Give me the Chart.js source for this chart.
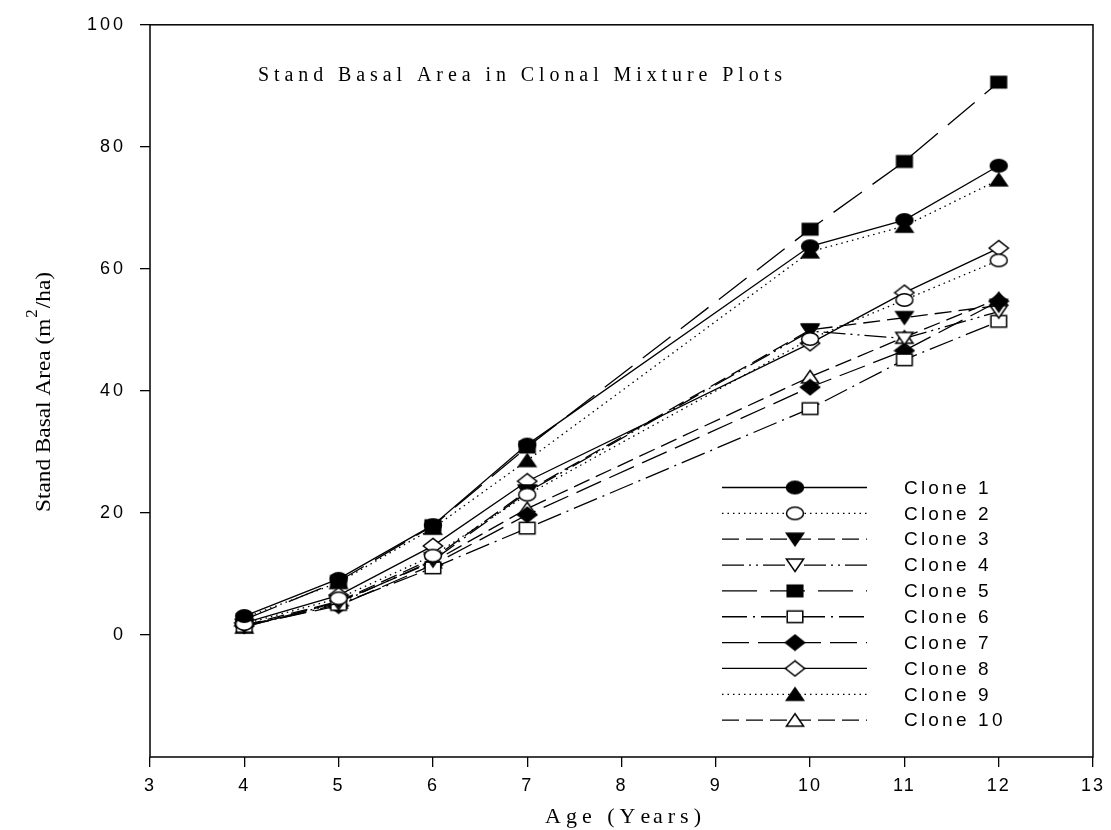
<!DOCTYPE html>
<html><head><meta charset="utf-8">
<script src="https://cdn.jsdelivr.net/npm/chart.js@4.4.0/dist/chart.umd.min.js"></script>
<style>html,body{margin:0;padding:0;background:#fff}#wrap{width:1111px;height:830px;position:relative}</style>
</head><body><div id="wrap"><canvas id="c"></canvas></div>
<script>
// ---- data ----
const ages = [4, 5, 6, 7, 10, 11, 12];
const cloneNames = ['Clone 1','Clone 2','Clone 3','Clone 4','Clone 5','Clone 6','Clone 7','Clone 8','Clone 9','Clone 10'];
const clone1  = [3.1, 9.2, 18.0, 31.2, 63.7, 68.0, 76.9];
const clone2  = [1.8, 6.0, 13.0, 23.0, 48.5, 54.9, 61.4];
const clone3  = [1.6, 5.5, 12.5, 23.6, 50.0, 52.0, 54.0];
const clone4  = [1.5, 5.2, 12.2, 23.4, 49.8, 48.6, 53.0];
const clone5  = [2.5, 8.8, 17.9, 30.8, 66.5, 77.6, 90.6];
const clone6  = [1.4, 5.0, 11.0, 17.5, 37.1, 45.1, 51.4];
const clone7  = [1.5, 4.8, 11.5, 19.7, 40.6, 46.6, 54.7];
const clone8  = [2.0, 6.5, 14.6, 25.2, 47.8, 56.1, 63.4];
const clone9  = [2.8, 8.6, 17.5, 28.6, 62.8, 67.0, 74.6];
const clone10 = [1.3, 5.4, 12.0, 20.7, 42.3, 48.8, 55.1];
const xTicks = [3, 4, 5, 6, 7, 8, 9, 10, 11, 12, 13];
const yTicks = [0, 20, 40, 60, 80, 100];
const chartTitle = 'Stand Basal Area in Clonal Mixture Plots';
const xTitle = 'Age (Years)';

// ---- styles ----
const seriesValues = [clone1, clone2, clone3, clone4, clone5, clone6, clone7, clone8, clone9, clone10];
const markerShapes = ['circle','circle','triDown','triDown','square','square','diamond','diamond','triUp','triUp'];
const markerFilled = [true,false,true,false,true,false,true,false,true,false];
const dashes = [[], [1.5,4], [17,7], [22,5,2,5,2,5], [35,13], [25,6,2,6], [27,9], [], [1.5,4], [17,7]];

function makeMarker(shape, filled) {
  const c = document.createElement('canvas');
  c.width = 22; c.height = 18;
  const g = c.getContext('2d');
  const cx = 11, cy = 9;
  g.beginPath();
  if (shape === 'circle') g.ellipse(cx, cy, 8.5, 6.2, 0, 0, Math.PI * 2);
  else if (shape === 'square') g.rect(cx - 7.8, cy - 5.8, 15.6, 11.6);
  else if (shape === 'diamond') { g.moveTo(cx, cy - 7.6); g.lineTo(cx + 9.6, cy); g.lineTo(cx, cy + 7.6); g.lineTo(cx - 9.6, cy); g.closePath(); }
  else if (shape === 'triUp') { g.moveTo(cx, cy - 6.5); g.lineTo(cx + 8.6, cy + 6); g.lineTo(cx - 8.6, cy + 6); g.closePath(); }
  else if (shape === 'triDown') { g.moveTo(cx, cy + 6.5); g.lineTo(cx + 8.6, cy - 6); g.lineTo(cx - 8.6, cy - 6); g.closePath(); }
  g.fillStyle = filled ? '#000' : '#fff';
  g.fill();
  g.lineWidth = 1.5; g.strokeStyle = '#000';
  g.stroke();
  return c;
}

const datasets = seriesValues.map((vals, i) => ({
  label: cloneNames[i],
  data: ages.map((a, j) => ({ x: a, y: vals[j] })),
  borderColor: '#000',
  borderWidth: 1.3,
  borderDash: dashes[i],
  pointStyle: makeMarker(markerShapes[i], markerFilled[i]),
  pointRadius: 8,
  fill: false,
  tension: 0
}));

function spacedText(ctx, text, x, y, width) {
  const chars = Array.from(text);
  const natural = ctx.measureText(text).width;
  const sp = chars.length > 1 ? (width - natural) / (chars.length - 1) : 0;
  let cx = x;
  for (let i = 0; i < chars.length; i++) {
    ctx.fillText(chars[i], cx, y);
    const w = ctx.measureText(text.slice(0, i + 1)).width - ctx.measureText(text.slice(0, i)).width;
    cx += w + sp;
  }
}

const decor = {
  id: 'decor',
  beforeDraw(chart) {
    for (const [id, ls] of [['x', '2px'], ['y', '3px']]) {
      const s = chart.scales[id];
      if (!s._patched) {
        const orig = Object.getPrototypeOf(s).drawLabels;
        s.drawLabels = function (area) {
          const ctx = this.ctx; ctx.save();
          try { ctx.letterSpacing = ls; } catch (e) {}
          orig.call(this, area); ctx.restore();
        };
        s._patched = true;
      }
    }
  },
  afterDraw(chart) {
    const ctx = chart.ctx;
    const a = chart.chartArea;
    ctx.save();
    ctx.strokeStyle = '#000'; ctx.lineWidth = 1.5;
    ctx.strokeRect(a.left, a.top, a.right - a.left, a.bottom - a.top);
    ctx.fillStyle = '#000';
    ctx.textBaseline = 'middle'; ctx.textAlign = 'left';
    ctx.font = '20px "Liberation Serif", "Times New Roman", serif';
    spacedText(ctx, chartTitle, 258, 76, 524);
    ctx.font = '22px "Liberation Serif", "Times New Roman", serif';
    spacedText(ctx, xTitle, 545, 817, 156);
    // y title (rotated)
    ctx.save();
    ctx.translate(50, 392);
    ctx.rotate(-Math.PI / 2);
    const p1 = 'Stand Basal Area (m', p3 = '/ha)';
    const fBig = '22px "Liberation Serif", "Times New Roman", serif';
    const fSup = '16px "Liberation Serif", "Times New Roman", serif';
    ctx.font = fBig; const w1 = ctx.measureText(p1).width, w3 = ctx.measureText(p3).width;
    ctx.font = fSup; const w2 = ctx.measureText('2').width + 2;
    const total = w1 + w2 + w3;
    const k = 240 / total;
    ctx.scale(k, 1);
    ctx.textBaseline = 'alphabetic';
    let x0 = -total / 2;
    ctx.font = fBig; ctx.fillText(p1, x0, 0);
    ctx.font = fSup; ctx.fillText('2', x0 + w1 + 1, -13);
    ctx.font = fBig; ctx.fillText(p3, x0 + w1 + w2, 0);
    ctx.restore();
    // legend
    const rowY0 = 487.5, rowDy = 25.85;
    ctx.font = '19px "Liberation Sans", Arial, sans-serif';
    ctx.textBaseline = 'middle';
    chart.data.datasets.forEach((ds, i) => {
      const y = rowY0 + i * rowDy;
      ctx.save();
      ctx.strokeStyle = '#000'; ctx.lineWidth = 1.3;
      ctx.setLineDash(ds.borderDash || []);
      ctx.beginPath(); ctx.moveTo(722, y); ctx.lineTo(867, y); ctx.stroke();
      ctx.restore();
      const img = ds.pointStyle;
      ctx.drawImage(img, 795 - img.width / 2, y - img.height / 2);
      const lbl = ds.label;
      const natural = ctx.measureText(lbl).width;
      spacedText(ctx, lbl, 904, y + 1, natural + (Array.from(lbl).length - 1) * 3.2);
    });
    ctx.restore();
  }
};

const tickFont = { family: '"Liberation Sans", Arial, sans-serif', size: 18 };

new Chart(document.getElementById('c'), {
  type: 'line',
  data: { datasets },
  options: {
    animation: false,
    responsive: true,
    maintainAspectRatio: false,
    layout: { padding: { top: 19, right: 16, left: 0, bottom: 0 } },
    plugins: { legend: { display: false }, tooltip: { enabled: false }, title: { display: false } },
    scales: {
      x: {
        type: 'linear', min: 3, max: 13,
        afterBuildTicks: s => { s.ticks = xTicks.map(v => ({ value: v })); },
        afterFit: s => { s.height = 73; },
        ticks: { font: tickFont, color: '#000', padding: 8, maxRotation: 0, autoSkip: false },
        grid: { drawOnChartArea: false, tickLength: 10, color: '#000', lineWidth: 1.3 },
        border: { display: false }
      },
      y: {
        type: 'linear', min: -20, max: 100,
        afterBuildTicks: s => { s.ticks = yTicks.map(v => ({ value: v })); },
        afterFit: s => { s.width = 150; },
        ticks: { font: tickFont, color: '#000', padding: 14 },
        grid: { drawOnChartArea: false, tickLength: 10, color: '#000', lineWidth: 1.3 },
        border: { display: false }
      }
    }
  },
  plugins: [decor]
});
</script></body></html>
